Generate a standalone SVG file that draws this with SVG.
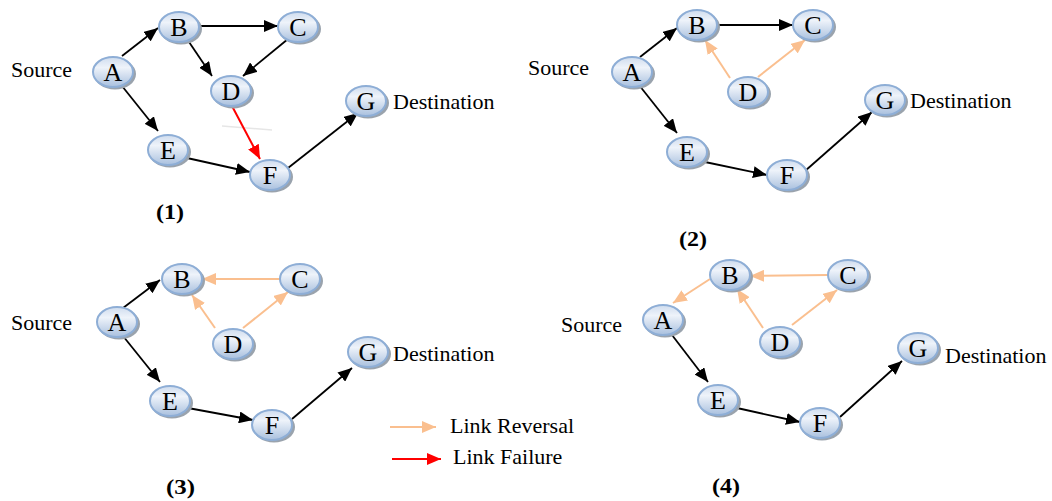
<svg xmlns="http://www.w3.org/2000/svg" width="1052" height="501" viewBox="0 0 1052 501">
<defs>
<linearGradient id="ng" x1="0" y1="0" x2="0" y2="1">
<stop offset="0" stop-color="#cfdcee"/>
<stop offset="0.35" stop-color="#eef3fa"/>
<stop offset="1" stop-color="#a9c0de"/>
</linearGradient>
<marker id="ab" markerUnits="userSpaceOnUse" markerWidth="14" markerHeight="12" refX="14" refY="6" orient="auto"><path d="M0,0 L14,6 L0,12 z" fill="#000"/></marker>
<marker id="ao" markerUnits="userSpaceOnUse" markerWidth="14" markerHeight="12" refX="14" refY="6" orient="auto"><path d="M0,0 L14,6 L0,12 z" fill="#fabf8f"/></marker>
<marker id="ar" markerUnits="userSpaceOnUse" markerWidth="14" markerHeight="12" refX="14" refY="6" orient="auto"><path d="M0,0 L14,6 L0,12 z" fill="#ff0000"/></marker>
</defs>
<style>
.sh{fill:#9aa3ad}
.nd{fill:url(#ng);stroke:#8eaed6;stroke-width:2}
.nl{font-family:"Liberation Serif",serif;font-size:26px;fill:#000;text-anchor:middle}
.lb{font-family:"Liberation Serif",serif;font-size:22px;fill:#000}
.pl{font-family:"Liberation Serif",serif;font-size:21px;font-weight:bold;fill:#000}
.eb{stroke:#000;stroke-width:1.8;fill:none;marker-end:url(#ab)}
.eo{stroke:#fabf8f;stroke-width:2;fill:none;marker-end:url(#ao)}
.er{stroke:#ff0000;stroke-width:2;fill:none;marker-end:url(#ar)}
</style>
<rect width="1052" height="501" fill="#fff"/>

<g id="connectors">
<!-- panel 1 -->
<line class="eb" x1="122" y1="56" x2="158" y2="28"/>
<line class="eb" x1="199" y1="26" x2="278" y2="26"/>
<line class="eb" x1="187" y1="39" x2="212" y2="76"/>
<line class="eb" x1="288" y1="39" x2="243" y2="76"/>
<line class="eb" x1="122" y1="86" x2="158" y2="131"/>
<line class="eb" x1="187" y1="158" x2="250" y2="172"/>
<line class="eb" x1="288" y1="168" x2="358" y2="113"/>
<line x1="222" y1="126" x2="272" y2="130" stroke="#e6e6e6" stroke-width="1.5"/>
<line class="er" x1="232" y1="106" x2="260" y2="159"/>
<!-- panel 2 -->
<line class="eb" x1="640" y1="57" x2="677" y2="28"/>
<line class="eb" x1="718" y1="25" x2="793" y2="25"/>
<line class="eo" x1="730" y1="78" x2="705" y2="40"/>
<line class="eo" x1="758" y1="77" x2="805" y2="40"/>
<line class="eb" x1="639" y1="85" x2="677" y2="133"/>
<line class="eb" x1="705" y1="162" x2="767" y2="175"/>
<line class="eb" x1="805" y1="171" x2="872" y2="112"/>
<!-- panel 3 -->
<line class="eb" x1="123" y1="308" x2="160" y2="280"/>
<line class="eo" x1="282" y1="279" x2="202" y2="279"/>
<line class="eo" x1="215" y1="328" x2="192" y2="295"/>
<line class="eo" x1="243" y1="328" x2="288" y2="292"/>
<line class="eb" x1="123" y1="336" x2="160" y2="382"/>
<line class="eb" x1="188" y1="408" x2="253" y2="420"/>
<line class="eb" x1="292" y1="419" x2="352" y2="368"/>
<!-- panel 4 -->
<line class="eo" x1="710" y1="279" x2="673" y2="303"/>
<line class="eo" x1="828" y1="275" x2="750" y2="276"/>
<line class="eo" x1="763" y1="328" x2="737" y2="289"/>
<line class="eo" x1="792" y1="325" x2="837" y2="290"/>
<line class="eb" x1="672" y1="335" x2="708" y2="382"/>
<line class="eb" x1="737" y1="408" x2="800" y2="422"/>
<line class="eb" x1="840" y1="417" x2="902" y2="361"/>
<!-- legend -->
<line class="eo" x1="390" y1="427" x2="436" y2="427"/>
<line class="er" x1="392" y1="459" x2="441" y2="459"/>
</g>

<!-- panel 1 nodes -->
<g id="p1-A"><ellipse class="sh" cx="115" cy="74" rx="21" ry="15.5"/><ellipse class="nd" cx="113" cy="72" rx="20" ry="15"/><text class="nl" x="113" y="81">A</text></g>
<g id="p1-B"><ellipse class="sh" cx="181" cy="29" rx="21" ry="15.5"/><ellipse class="nd" cx="179" cy="27" rx="20" ry="15"/><text class="nl" x="179" y="36">B</text></g>
<g id="p1-C"><ellipse class="sh" cx="300" cy="29" rx="21" ry="15.5"/><ellipse class="nd" cx="298" cy="27" rx="20" ry="15"/><text class="nl" x="298" y="36">C</text></g>
<g id="p1-D"><ellipse class="sh" cx="233" cy="93" rx="21" ry="15.5"/><ellipse class="nd" cx="231" cy="91" rx="20" ry="15"/><text class="nl" x="231" y="100">D</text></g>
<g id="p1-E"><ellipse class="sh" cx="170" cy="152" rx="21" ry="15.5"/><ellipse class="nd" cx="168" cy="150" rx="20" ry="15"/><text class="nl" x="168" y="159">E</text></g>
<g id="p1-F"><ellipse class="sh" cx="272" cy="177" rx="21" ry="15.5"/><ellipse class="nd" cx="270" cy="175" rx="20" ry="15"/><text class="nl" x="270" y="184">F</text></g>
<g id="p1-G"><ellipse class="sh" cx="368" cy="103" rx="21" ry="15.5"/><ellipse class="nd" cx="366" cy="101" rx="20" ry="15"/><text class="nl" x="366" y="110">G</text></g>
<g id="p1-labels"><text class="lb" x="11" y="77">Source</text><text class="lb" x="393" y="109">Destination</text><text class="pl" x="156" y="219" textLength="28" lengthAdjust="spacingAndGlyphs">(1)</text></g>

<!-- panel 2 nodes -->
<g id="p2-A"><ellipse class="sh" cx="634" cy="74" rx="21" ry="15.5"/><ellipse class="nd" cx="632" cy="72" rx="20" ry="15"/><text class="nl" x="632" y="81">A</text></g>
<g id="p2-B"><ellipse class="sh" cx="699" cy="27" rx="21" ry="15.5"/><ellipse class="nd" cx="697" cy="25" rx="20" ry="15"/><text class="nl" x="697" y="34">B</text></g>
<g id="p2-C"><ellipse class="sh" cx="815" cy="27" rx="21" ry="15.5"/><ellipse class="nd" cx="813" cy="25" rx="20" ry="15"/><text class="nl" x="813" y="34">C</text></g>
<g id="p2-D"><ellipse class="sh" cx="750" cy="94" rx="21" ry="15.5"/><ellipse class="nd" cx="748" cy="92" rx="20" ry="15"/><text class="nl" x="748" y="101">D</text></g>
<g id="p2-E"><ellipse class="sh" cx="689" cy="154" rx="21" ry="15.5"/><ellipse class="nd" cx="687" cy="152" rx="20" ry="15"/><text class="nl" x="687" y="161">E</text></g>
<g id="p2-F"><ellipse class="sh" cx="789" cy="177" rx="21" ry="15.5"/><ellipse class="nd" cx="787" cy="175" rx="20" ry="15"/><text class="nl" x="787" y="184">F</text></g>
<g id="p2-G"><ellipse class="sh" cx="887" cy="102" rx="21" ry="15.5"/><ellipse class="nd" cx="885" cy="100" rx="20" ry="15"/><text class="nl" x="885" y="109">G</text></g>
<g id="p2-labels"><text class="lb" x="528" y="75">Source</text><text class="lb" x="910" y="108">Destination</text><text class="pl" x="679" y="246" textLength="28" lengthAdjust="spacingAndGlyphs">(2)</text></g>

<!-- panel 3 nodes -->
<g id="p3-A"><ellipse class="sh" cx="119" cy="324" rx="21" ry="15.5"/><ellipse class="nd" cx="117" cy="322" rx="20" ry="15"/><text class="nl" x="117" y="331">A</text></g>
<g id="p3-B"><ellipse class="sh" cx="184" cy="281" rx="21" ry="15.5"/><ellipse class="nd" cx="182" cy="279" rx="20" ry="15"/><text class="nl" x="182" y="288">B</text></g>
<g id="p3-C"><ellipse class="sh" cx="302" cy="281" rx="21" ry="15.5"/><ellipse class="nd" cx="300" cy="279" rx="20" ry="15"/><text class="nl" x="300" y="288">C</text></g>
<g id="p3-D"><ellipse class="sh" cx="235" cy="346" rx="21" ry="15.5"/><ellipse class="nd" cx="233" cy="344" rx="20" ry="15"/><text class="nl" x="233" y="353">D</text></g>
<g id="p3-E"><ellipse class="sh" cx="172" cy="403" rx="21" ry="15.5"/><ellipse class="nd" cx="170" cy="401" rx="20" ry="15"/><text class="nl" x="170" y="410">E</text></g>
<g id="p3-F"><ellipse class="sh" cx="274" cy="427" rx="21" ry="15.5"/><ellipse class="nd" cx="272" cy="425" rx="20" ry="15"/><text class="nl" x="272" y="434">F</text></g>
<g id="p3-G"><ellipse class="sh" cx="370" cy="354" rx="21" ry="15.5"/><ellipse class="nd" cx="368" cy="352" rx="20" ry="15"/><text class="nl" x="368" y="361">G</text></g>
<g id="p3-labels"><text class="lb" x="11" y="330">Source</text><text class="lb" x="393" y="361">Destination</text><text class="pl" x="166" y="494" textLength="29" lengthAdjust="spacingAndGlyphs">(3)</text></g>

<!-- panel 4 nodes -->
<g id="p4-A"><ellipse class="sh" cx="665" cy="322" rx="21" ry="15.5"/><ellipse class="nd" cx="663" cy="320" rx="20" ry="15"/><text class="nl" x="663" y="329">A</text></g>
<g id="p4-B"><ellipse class="sh" cx="732" cy="277" rx="21" ry="15.5"/><ellipse class="nd" cx="730" cy="275" rx="20" ry="15"/><text class="nl" x="730" y="284">B</text></g>
<g id="p4-C"><ellipse class="sh" cx="850" cy="277" rx="21" ry="15.5"/><ellipse class="nd" cx="848" cy="275" rx="20" ry="15"/><text class="nl" x="848" y="284">C</text></g>
<g id="p4-D"><ellipse class="sh" cx="782" cy="344" rx="21" ry="15.5"/><ellipse class="nd" cx="780" cy="342" rx="20" ry="15"/><text class="nl" x="780" y="351">D</text></g>
<g id="p4-E"><ellipse class="sh" cx="720" cy="402" rx="21" ry="15.5"/><ellipse class="nd" cx="718" cy="400" rx="20" ry="15"/><text class="nl" x="718" y="409">E</text></g>
<g id="p4-F"><ellipse class="sh" cx="822" cy="425" rx="21" ry="15.5"/><ellipse class="nd" cx="820" cy="423" rx="20" ry="15"/><text class="nl" x="820" y="432">F</text></g>
<g id="p4-G"><ellipse class="sh" cx="920" cy="350" rx="21" ry="15.5"/><ellipse class="nd" cx="918" cy="348" rx="20" ry="15"/><text class="nl" x="918" y="357">G</text></g>
<g id="p4-labels"><text class="lb" x="561" y="332">Source</text><text class="lb" x="945" y="363">Destination</text><text class="pl" x="712" y="493" textLength="28" lengthAdjust="spacingAndGlyphs">(4)</text></g>

<g id="legend"><text class="lb" x="450" y="433">Link Reversal</text><text class="lb" x="453" y="464">Link Failure</text></g>
</svg>
